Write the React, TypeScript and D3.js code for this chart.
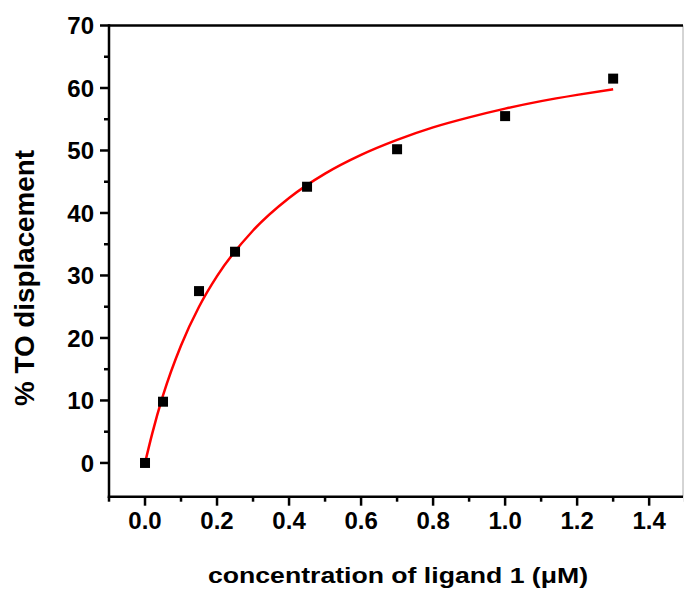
import React from "react";
import * as d3 from "d3";

const conc = [0, 0.05, 0.15, 0.25, 0.45, 0.7, 1.0, 1.3];
const displacement = [0, 9.8, 27.5, 33.8, 44.2, 50.2, 55.5, 61.5];

const fitX = [0, 0.02, 0.05, 0.1, 0.15, 0.2, 0.3, 0.4, 0.5, 0.6, 0.7, 0.8, 0.9, 1.0, 1.1, 1.2, 1.3];
const fitY = [0, 4.7, 10.8, 18.8, 25.0, 29.9, 37.2, 42.4, 46.3, 49.3, 51.7, 53.7, 55.3, 56.7, 57.9, 58.9, 59.8];

const xMajor = [0, 0.2, 0.4, 0.6, 0.8, 1.0, 1.2, 1.4];
const xMinor = [-0.1, 0.1, 0.3, 0.5, 0.7, 0.9, 1.1, 1.3, 1.5];
const yMajor = [0, 10, 20, 30, 40, 50, 60, 70];
const yMinor = [5, 15, 25, 35, 45, 55, 65];

const xTitle = "concentration of ligand 1 (\u03bcM)";
const yTitle = "% TO displacement";

export default function App() {
  const W = 684, H = 590;
  const left = 109, right = 683, top = 25.5, bottom = 496.7;
  const x = d3.scaleLinear().domain([-0.1, 1.494]).range([left, right]);
  const y = d3.scaleLinear().domain([-5.4, 70]).range([bottom, top]);
  const line = d3
    .line<number>()
    .x((_, i) => x(fitX[i]))
    .y((d) => y(d))
    .curve(d3.curveMonotoneX);
  const font = "'Liberation Sans', Arial, sans-serif";
  return (
    <svg
      width={W}
      height={H}
      style={{ position: "absolute", left: 0, top: 0, background: "#fff" }}
      fontFamily={font}
      fontWeight="bold"
    >
      {/* frame */}
      <line x1={right} x2={right} y1={top} y2={bottom} stroke="#aaa" strokeWidth={1} />
      <line x1={left} x2={right} y1={top} y2={top} stroke="#000" strokeWidth={2.5} />
      <line x1={left} x2={left} y1={top - 1.2} y2={bottom + 1.2} stroke="#000" strokeWidth={2.5} />
      <line x1={left - 1.2} x2={right} y1={bottom} y2={bottom} stroke="#000" strokeWidth={2.5} />

      {/* y ticks */}
      {yMajor.map((v) => (
        <g key={"ym" + v}>
          <line x1={left - 9} x2={left} y1={y(v)} y2={y(v)} stroke="#000" strokeWidth={2.5} />
          <text x={94} y={y(v)} dy="0.36em" textAnchor="end" fontSize={24}>
            {v}
          </text>
        </g>
      ))}
      {yMinor.map((v) => (
        <line key={"yn" + v} x1={left - 5} x2={left} y1={y(v)} y2={y(v)} stroke="#000" strokeWidth={2.5} />
      ))}

      {/* x ticks */}
      {xMajor.map((v) => (
        <g key={"xm" + v}>
          <line x1={x(v)} x2={x(v)} y1={bottom} y2={bottom + 9} stroke="#000" strokeWidth={2.5} />
          <text x={x(v)} y={529} textAnchor="middle" fontSize={24}>
            {v.toFixed(1)}
          </text>
        </g>
      ))}
      {xMinor.map((v) => (
        <line key={"xn" + v} x1={x(v)} x2={x(v)} y1={bottom} y2={bottom + 5} stroke="#000" strokeWidth={2.5} />
      ))}

      {/* fit curve */}
      <path d={line(fitY) || ""} fill="none" stroke="#ff0000" strokeWidth={2.5} />

      {/* points */}
      {conc.map((c, i) => (
        <rect key={"p" + i} x={x(c) - 5} y={y(displacement[i]) - 5} width={10} height={10} fill="#000" />
      ))}

      {/* titles */}
      <text x={208} y={583} fontSize={22} textLength={380} lengthAdjust="spacingAndGlyphs">
        {xTitle}
      </text>
      <text
        transform={`translate(34, 406) rotate(-90)`}
        fontSize={27}
        textLength={256}
        lengthAdjust="spacingAndGlyphs"
      >
        {yTitle}
      </text>
    </svg>
  );
}
